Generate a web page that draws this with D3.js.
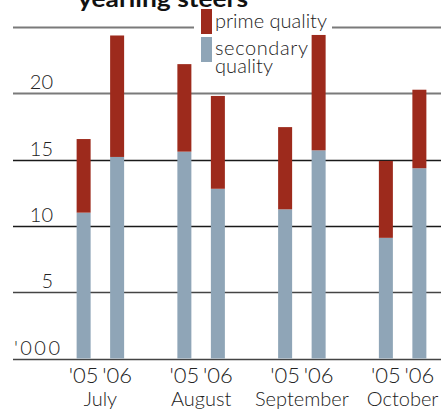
<!DOCTYPE html>
<html><head><meta charset="utf-8">
<script src="https://cdn.jsdelivr.net/npm/d3@7"></script>
<style>
body{margin:0;background:#fff;}
svg{display:block;font-family:"Lato","Open Sans",sans-serif;}
</style></head>
<body>
<svg id="c" width="441" height="412"></svg>
<script>
const months = ["July","August","September","October"];
const years = ["'05","'06"];
const secondary = [[11.0,15.2],[15.6,12.8],[11.25,15.7],[9.1,14.35]];
const prime = [[5.55,9.16],[6.6,7.0],[6.2,8.7],[5.8,5.92]];
const yTicks = [0,5,10,15,20,25];
const yTickLabels = ["'000","5","10","15","20",""];
const legendLabels = ["prime quality","secondary quality"];
const title = "yearling steers";

const svg = d3.select("#c");
const red = "#9d2a1c", blue = "#8fa5b7";
const y = d3.scaleLinear().domain([0,25]).range([358.5,27]);
const x = d3.scaleBand().domain(months).range([50,453]);
const xs = d3.scalePoint().domain(years).range([-16.75,16.75]);
const bw = 14;

// gridlines
svg.append("g").selectAll("line").data(yTicks).join("line")
  .attr("x1",13).attr("x2",441)
  .attr("y1",d=>Math.round(y(d))+0.5).attr("y2",d=>Math.round(y(d))+0.5)
  .attr("stroke",d=>d>=20?"#7a7a7a":(d<10?"#444":"#1a1a1a"))
  .attr("stroke-width",d=>d>=20?2:1.6);

// legend background (breaks top gridline)
svg.append("rect").attr("x",194).attr("y",20).attr("width",138).attr("height",14).attr("fill","#fff");

// y labels
svg.append("g").selectAll("text").data(yTicks.filter(d=>d>0&&d<25)).join("text")
  .attr("x",53).attr("y",d=>y(d)-4).attr("text-anchor","end")
  .attr("font-size",20).attr("font-weight",300).attr("fill","#222")
  .text(d=>yTickLabels[yTicks.indexOf(d)]);
svg.append("text").attr("x",14).attr("y",y(0)-4).attr("font-size",20)
  .attr("font-weight",300).attr("fill","#222")
  .attr("textLength",46).attr("lengthAdjust","spacing").text(yTickLabels[0]);

// bars
const flat = [];
months.forEach((m,i)=>years.forEach((yr,j)=>flat.push({m,yr,s:secondary[i][j],p:prime[i][j]})));
const bars = svg.append("g");
bars.selectAll(".s").data(flat).join("rect")
  .attr("x",d=>x(d.m)+x.bandwidth()/2+xs(d.yr)-bw/2).attr("width",bw)
  .attr("y",d=>y(d.s)).attr("height",d=>y(0)-y(d.s)).attr("fill",blue);
bars.selectAll(".p").data(flat).join("rect")
  .attr("x",d=>x(d.m)+x.bandwidth()/2+xs(d.yr)-bw/2).attr("width",bw)
  .attr("y",d=>y(d.s+d.p)).attr("height",d=>y(d.s)-y(d.s+d.p)).attr("fill",red);

// x labels
svg.append("g").selectAll("text").data(flat).join("text")
  .attr("x",d=>x(d.m)+x.bandwidth()/2+xs(d.yr)).attr("y",383)
  .attr("text-anchor","middle").attr("font-size",22).attr("font-weight",300).attr("fill","#222")
  .text(d=>d.yr);
svg.append("g").selectAll("text").data(months).join("text")
  .attr("x",d=>x(d)+x.bandwidth()/2).attr("y",406)
  .attr("text-anchor","middle").attr("font-size",20).attr("font-weight",300).attr("fill","#222")
  .text(d=>d);

// legend
svg.append("rect").attr("x",201).attr("y",9).attr("width",11).attr("height",25).attr("fill",red);
svg.append("rect").attr("x",201).attr("y",37).attr("width",11).attr("height",25).attr("fill",blue);
svg.append("text").attr("x",215).attr("y",28).attr("font-size",20).attr("font-weight",300).attr("fill","#222")
  .attr("textLength",112).attr("lengthAdjust","spacing").text(legendLabels[0]);
const lt = svg.append("text").attr("x",215).attr("y",55).attr("font-size",20).attr("font-weight",300).attr("fill","#222");
lt.append("tspan").attr("x",215).attr("textLength",93).attr("lengthAdjust","spacing").text("secondary");
lt.append("tspan").attr("x",215).attr("dy",18).attr("textLength",58).attr("lengthAdjust","spacing").text("quality");

// title
svg.append("text").attr("x",78).attr("y",7).attr("font-size",22).attr("font-weight",700)
  .attr("fill","#111").attr("textLength",170).attr("lengthAdjust","spacingAndGlyphs").text(title);
</script>
</body></html>
